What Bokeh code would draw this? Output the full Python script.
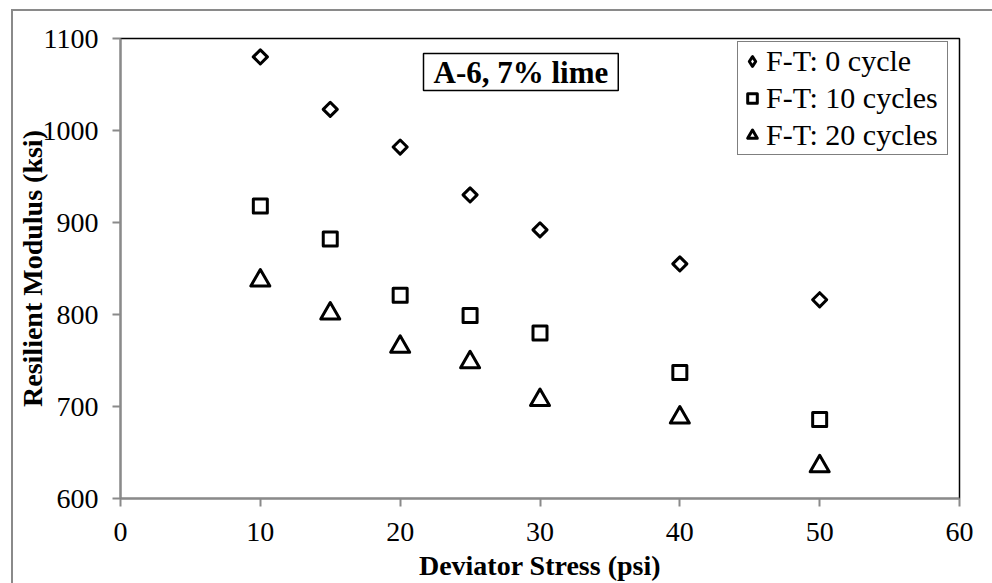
import math
from bokeh.plotting import figure
from bokeh.models import Range1d, Legend, LegendItem, Label, FixedTicker
from bokeh.embed import file_html
from bokeh.resources import INLINE

stress = [10, 15, 20, 25, 30, 40, 50]
mr_0 = [1080, 1023, 982, 930, 892, 855, 816]
mr_10 = [918, 882, 821, 799, 780, 737, 686]
mr_20 = [837, 801, 765, 748, 707, 688, 635]
series_names = ["F-T: 0 cycle", "F-T: 10 cycles", "F-T: 20 cycles"]
x_ticks = [0, 10, 20, 30, 40, 50, 60]
y_ticks = [600, 700, 800, 900, 1000, 1100]

FONT = "Liberation Serif"
GRAY = "#8a8a8a"

outer_bg = ("linear-gradient(#8a8a8a,#8a8a8a) 11px 9px / 2px 100% no-repeat, "
            "linear-gradient(#8a8a8a,#8a8a8a) 11px 9px / 100% 2px no-repeat, white")

p = figure(width=992, height=583, output_backend="svg", toolbar_location=None,
           x_range=Range1d(0, 60), y_range=Range1d(600, 1100),
           min_border_left=120, min_border_right=33, min_border_top=38, min_border_bottom=84,
           styles={"background": outer_bg})
p.border_fill_color = None
p.background_fill_color = "white"
p.xgrid.visible = False
p.ygrid.visible = False
p.outline_line_color = "black"
p.outline_line_width = 1.5

for ax in (p.xaxis[0], p.yaxis[0]):
    ax.axis_line_color = GRAY
    ax.axis_line_width = 2
    ax.major_tick_line_color = GRAY
    ax.major_tick_line_width = 2
    ax.major_tick_in = 0
    ax.major_tick_out = 8
    ax.minor_tick_line_color = None
    ax.major_label_text_font = FONT
    ax.major_label_text_font_size = "28px"
    ax.major_label_text_color = "black"
    ax.axis_label_text_font = FONT
    ax.axis_label_text_font_size = "28px"
    ax.axis_label_text_font_style = "bold"
    ax.axis_label_text_color = "black"

p.xaxis.ticker = FixedTicker(ticks=x_ticks)
p.yaxis.ticker = FixedTicker(ticks=y_ticks)
p.xaxis.axis_label = "Deviator Stress (psi)"
p.yaxis.axis_label = "Resilient Modulus (ksi)"
p.xaxis.major_label_standoff = 16
p.yaxis.major_label_standoff = 14
p.xaxis.axis_label_standoff = 6
p.yaxis.axis_label_standoff = -8

# diamond glyph used for the legend entry; hidden under the rotated squares
r0_leg = p.scatter(stress, mr_0, marker="diamond", size=9,
                   fill_color="white", line_color="black", line_width=3, line_join="round")
r0 = p.scatter(stress, mr_0, marker="square", angle=math.pi / 4, size=10,
               fill_color="white", line_color="black", line_width=3, line_join="round")
r1 = p.scatter(stress, mr_10, marker="square", size=14,
               fill_color="white", line_color="black", line_width=3, line_join="round")
r2 = p.scatter(stress, mr_20, marker="triangle", size=19,
               fill_color="white", line_color="black", line_width=3, line_join="round")

legend = Legend(items=[LegendItem(label=series_names[0], renderers=[r0_leg]),
                       LegendItem(label=series_names[1], renderers=[r1]),
                       LegendItem(label=series_names[2], renderers=[r2])],
                location=(617, 343), orientation="vertical",
                label_text_font=FONT, label_text_font_size="30px",
                label_text_color="black",
                glyph_width=24, glyph_height=30, label_height=30, label_width=179,
                spacing=3, padding=2, margin=0, label_standoff=2,
                border_line_color="black", border_line_width=1.5,
                background_fill_color="white", background_fill_alpha=1)
p.add_layout(legend)

note = Label(x=303, y=408, x_units="screen", y_units="screen",
             text="A-6, 7% lime", text_font=FONT, text_font_size="31px",
             text_font_style="bold", text_color="black",
             text_align="left", text_baseline="bottom",
             border_line_color="black", border_line_width=1.5,
             background_fill_color="white",
             padding=dict(left=10, right=10, top=1, bottom=1))
p.add_layout(note)

open("out.html", "w").write(file_html(p, INLINE))
